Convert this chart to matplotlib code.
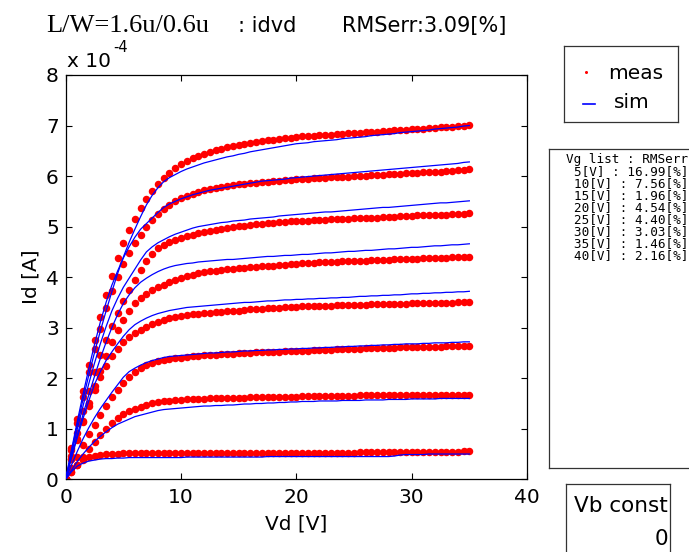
import numpy as np
import matplotlib
matplotlib.use("Agg")
import matplotlib.pyplot as plt

# ---------------- data (Id in units of 1e-4 A) ----------------
vd = np.arange(71) * 0.5          # drain sweep 0 .. 35 V, 0.5 V step
vg_list = [5, 10, 15, 20, 25, 30, 35, 40]
rms_err = ["16.99", "7.56", "1.96", "4.54", "4.40", "3.03", "1.46", "2.16"]
x_ticks = [0, 10, 20, 30, 40]
y_ticks = [0, 1, 2, 3, 4, 5, 6, 7, 8]

meas_5 = [0.00, 0.15, 0.28, 0.38, 0.44, 0.47, 0.49, 0.50, 0.51, 0.51,
          0.52, 0.52, 0.52, 0.52, 0.52, 0.52, 0.52, 0.52, 0.52, 0.52,
          0.52, 0.52, 0.52, 0.52, 0.52, 0.52, 0.52, 0.52, 0.52, 0.52,
          0.52, 0.53, 0.53, 0.53, 0.53, 0.53, 0.53, 0.53, 0.53, 0.53,
          0.53, 0.53, 0.53, 0.53, 0.53, 0.53, 0.53, 0.53, 0.53, 0.53,
          0.53, 0.55, 0.55, 0.55, 0.55, 0.55, 0.55, 0.55, 0.55, 0.55,
          0.55, 0.55, 0.55, 0.55, 0.55, 0.55, 0.55, 0.55, 0.55, 0.56,
          0.56]
sim_5 = [0.00, 0.15, 0.26, 0.32, 0.36, 0.38, 0.40, 0.41, 0.41, 0.42,
         0.42, 0.43, 0.43, 0.43, 0.43, 0.43, 0.43, 0.43, 0.43, 0.43,
         0.43, 0.44, 0.44, 0.44, 0.44, 0.44, 0.44, 0.44, 0.44, 0.44,
         0.44, 0.44, 0.44, 0.44, 0.44, 0.45, 0.45, 0.45, 0.45, 0.45,
         0.45, 0.45, 0.45, 0.45, 0.45, 0.45, 0.45, 0.45, 0.45, 0.45,
         0.45, 0.45, 0.45, 0.45, 0.45, 0.45, 0.45, 0.46, 0.48, 0.49,
         0.49, 0.49, 0.49, 0.50, 0.50, 0.50, 0.50, 0.50, 0.50, 0.50,
         0.50]
meas_10 = [0.00, 0.14, 0.29, 0.44, 0.60, 0.74, 0.88, 1.00, 1.11, 1.21,
           1.29, 1.35, 1.40, 1.44, 1.47, 1.50, 1.52, 1.54, 1.55, 1.56,
           1.57, 1.58, 1.58, 1.59, 1.59, 1.60, 1.60, 1.60, 1.61, 1.61,
           1.61, 1.61, 1.62, 1.62, 1.62, 1.62, 1.62, 1.63, 1.63, 1.63,
           1.63, 1.64, 1.64, 1.64, 1.64, 1.64, 1.64, 1.64, 1.64, 1.64,
           1.64, 1.66, 1.66, 1.66, 1.66, 1.66, 1.66, 1.66, 1.66, 1.66,
           1.66, 1.66, 1.66, 1.66, 1.66, 1.66, 1.66, 1.66, 1.66, 1.66,
           1.67]
sim_10 = [0.00, 0.18, 0.35, 0.50, 0.63, 0.75, 0.85, 0.94, 1.02, 1.09,
          1.14, 1.19, 1.24, 1.27, 1.30, 1.33, 1.36, 1.38, 1.39, 1.40,
          1.41, 1.42, 1.43, 1.44, 1.45, 1.45, 1.46, 1.46, 1.47, 1.47,
          1.48, 1.49, 1.49, 1.50, 1.50, 1.51, 1.51, 1.52, 1.52, 1.53,
          1.53, 1.54, 1.54, 1.54, 1.55, 1.55, 1.55, 1.55, 1.56, 1.56,
          1.56, 1.56, 1.57, 1.57, 1.57, 1.57, 1.58, 1.58, 1.58, 1.58,
          1.59, 1.59, 1.59, 1.59, 1.59, 1.60, 1.60, 1.60, 1.60, 1.60,
          1.60]
meas_15 = [0.00, 0.23, 0.45, 0.68, 0.90, 1.08, 1.28, 1.46, 1.62, 1.76,
           1.90, 2.02, 2.12, 2.21, 2.27, 2.31, 2.34, 2.36, 2.38, 2.40,
           2.41, 2.42, 2.43, 2.44, 2.45, 2.46, 2.46, 2.47, 2.47, 2.48,
           2.49, 2.49, 2.50, 2.51, 2.51, 2.52, 2.52, 2.52, 2.53, 2.53,
           2.53, 2.54, 2.54, 2.55, 2.55, 2.56, 2.56, 2.57, 2.57, 2.57,
           2.58, 2.58, 2.59, 2.59, 2.59, 2.60, 2.60, 2.60, 2.61, 2.61,
           2.61, 2.61, 2.62, 2.62, 2.62, 2.62, 2.63, 2.63, 2.63, 2.64,
           2.64]
sim_15 = [0.00, 0.28, 0.55, 0.80, 1.02, 1.22, 1.40, 1.56, 1.72, 1.87,
          2.02, 2.13, 2.20, 2.26, 2.31, 2.35, 2.38, 2.41, 2.43, 2.44,
          2.45, 2.46, 2.47, 2.48, 2.49, 2.50, 2.50, 2.51, 2.52, 2.52,
          2.53, 2.54, 2.54, 2.55, 2.55, 2.56, 2.56, 2.57, 2.57, 2.58,
          2.58, 2.59, 2.59, 2.60, 2.60, 2.61, 2.61, 2.62, 2.62, 2.63,
          2.63, 2.64, 2.64, 2.65, 2.65, 2.66, 2.66, 2.67, 2.67, 2.68,
          2.68, 2.68, 2.69, 2.69, 2.70, 2.70, 2.70, 2.71, 2.71, 2.72,
          2.72]
meas_20 = [0.00, 0.40, 0.78, 1.13, 1.46, 1.77, 2.02, 2.24, 2.43, 2.58,
           2.71, 2.81, 2.89, 2.96, 3.02, 3.08, 3.12, 3.16, 3.19, 3.22,
           3.24, 3.25, 3.27, 3.28, 3.29, 3.30, 3.31, 3.32, 3.33, 3.33,
           3.34, 3.35, 3.36, 3.37, 3.37, 3.38, 3.39, 3.39, 3.40, 3.41,
           3.41, 3.42, 3.42, 3.42, 3.43, 3.43, 3.43, 3.44, 3.44, 3.44,
           3.45, 3.45, 3.45, 3.46, 3.46, 3.46, 3.47, 3.47, 3.47, 3.47,
           3.48, 3.48, 3.48, 3.48, 3.49, 3.49, 3.49, 3.49, 3.50, 3.50,
           3.50]
sim_20 = [0.00, 0.42, 0.82, 1.20, 1.55, 1.88, 2.13, 2.35, 2.52, 2.68,
          2.83, 2.96, 3.06, 3.13, 3.19, 3.24, 3.28, 3.31, 3.34, 3.36,
          3.38, 3.40, 3.41, 3.42, 3.43, 3.44, 3.45, 3.46, 3.47, 3.48,
          3.49, 3.50, 3.50, 3.51, 3.52, 3.53, 3.53, 3.54, 3.55, 3.55,
          3.56, 3.56, 3.57, 3.57, 3.58, 3.58, 3.59, 3.59, 3.60, 3.60,
          3.61, 3.62, 3.62, 3.63, 3.63, 3.64, 3.64, 3.65, 3.65, 3.66,
          3.67, 3.67, 3.68, 3.68, 3.69, 3.69, 3.70, 3.70, 3.71, 3.71,
          3.72]
meas_25 = [0.00, 0.40, 0.79, 1.16, 1.51, 1.84, 2.15, 2.44, 2.71, 2.95,
           3.16, 3.34, 3.49, 3.59, 3.67, 3.74, 3.80, 3.85, 3.90, 3.95,
           3.99, 4.02, 4.05, 4.08, 4.10, 4.12, 4.13, 4.14, 4.16, 4.17,
           4.18, 4.19, 4.20, 4.21, 4.22, 4.23, 4.23, 4.24, 4.25, 4.26,
           4.27, 4.28, 4.28, 4.28, 4.29, 4.29, 4.30, 4.30, 4.31, 4.31,
           4.32, 4.32, 4.32, 4.33, 4.33, 4.34, 4.34, 4.35, 4.35, 4.36,
           4.36, 4.36, 4.37, 4.37, 4.37, 4.38, 4.38, 4.39, 4.39, 4.39,
           4.40]
sim_25 = [0.00, 0.44, 0.87, 1.28, 1.67, 2.04, 2.39, 2.71, 3.00, 3.26,
          3.48, 3.65, 3.79, 3.90, 3.98, 4.05, 4.11, 4.16, 4.20, 4.23,
          4.25, 4.27, 4.28, 4.30, 4.31, 4.32, 4.33, 4.34, 4.35, 4.35,
          4.36, 4.37, 4.38, 4.39, 4.40, 4.41, 4.41, 4.42, 4.43, 4.43,
          4.44, 4.45, 4.45, 4.46, 4.47, 4.48, 4.48, 4.49, 4.50, 4.51,
          4.51, 4.52, 4.53, 4.53, 4.54, 4.55, 4.56, 4.56, 4.57, 4.58,
          4.59, 4.59, 4.60, 4.61, 4.62, 4.62, 4.63, 4.64, 4.64, 4.65,
          4.66]
meas_30 = [0.00, 0.47, 0.92, 1.35, 1.75, 2.12, 2.45, 2.75, 3.03, 3.29,
           3.53, 3.75, 3.95, 4.14, 4.32, 4.46, 4.57, 4.64, 4.70, 4.74,
           4.78, 4.81, 4.84, 4.87, 4.90, 4.92, 4.94, 4.96, 4.98, 4.99,
           5.01, 5.02, 5.04, 5.05, 5.06, 5.07, 5.08, 5.09, 5.10, 5.11,
           5.11, 5.12, 5.12, 5.13, 5.13, 5.14, 5.15, 5.15, 5.16, 5.16,
           5.17, 5.17, 5.17, 5.18, 5.18, 5.19, 5.19, 5.20, 5.21, 5.21,
           5.21, 5.22, 5.22, 5.22, 5.23, 5.23, 5.23, 5.24, 5.24, 5.25,
           5.26]
sim_30 = [0.00, 0.50, 0.99, 1.45, 1.89, 2.30, 2.68, 3.02, 3.33, 3.58,
          3.80, 3.98, 4.16, 4.34, 4.50, 4.60, 4.68, 4.74, 4.80, 4.85,
          4.89, 4.93, 4.97, 5.00, 5.02, 5.04, 5.06, 5.08, 5.09, 5.11,
          5.12, 5.13, 5.15, 5.16, 5.17, 5.18, 5.19, 5.21, 5.22, 5.23,
          5.24, 5.25, 5.26, 5.27, 5.28, 5.29, 5.29, 5.30, 5.31, 5.32,
          5.33, 5.34, 5.35, 5.36, 5.37, 5.38, 5.38, 5.39, 5.40, 5.41,
          5.42, 5.43, 5.44, 5.45, 5.46, 5.47, 5.47, 5.48, 5.49, 5.50,
          5.51]
meas_35 = [0.00, 0.57, 1.11, 1.63, 2.12, 2.57, 2.98, 3.38, 3.72, 4.01,
           4.26, 4.47, 4.67, 4.84, 5.00, 5.13, 5.24, 5.34, 5.43, 5.50,
           5.56, 5.61, 5.65, 5.69, 5.72, 5.75, 5.77, 5.79, 5.81, 5.82,
           5.84, 5.85, 5.86, 5.87, 5.88, 5.89, 5.90, 5.91, 5.92, 5.93,
           5.94, 5.95, 5.95, 5.96, 5.96, 5.97, 5.98, 5.98, 5.99, 5.99,
           6.00, 6.01, 6.01, 6.02, 6.03, 6.03, 6.04, 6.05, 6.05, 6.06,
           6.06, 6.07, 6.08, 6.08, 6.09, 6.09, 6.10, 6.11, 6.12, 6.13,
           6.14]
sim_35 = [0.00, 0.58, 1.14, 1.68, 2.19, 2.67, 3.11, 3.50, 3.84, 4.12,
          4.38, 4.60, 4.79, 4.95, 5.06, 5.17, 5.28, 5.38, 5.45, 5.50,
          5.55, 5.59, 5.63, 5.66, 5.69, 5.72, 5.74, 5.76, 5.78, 5.80,
          5.82, 5.84, 5.86, 5.88, 5.90, 5.91, 5.92, 5.93, 5.94, 5.96,
          5.97, 5.98, 5.99, 6.00, 6.01, 6.02, 6.03, 6.04, 6.05, 6.06,
          6.07, 6.08, 6.09, 6.10, 6.11, 6.12, 6.13, 6.14, 6.15, 6.16,
          6.17, 6.18, 6.19, 6.20, 6.21, 6.22, 6.23, 6.24, 6.25, 6.27,
          6.28]
meas_40 = [0.00, 0.62, 1.20, 1.75, 2.27, 2.76, 3.22, 3.65, 4.03, 4.38,
           4.67, 4.93, 5.16, 5.37, 5.55, 5.71, 5.85, 5.97, 6.07, 6.16,
           6.23, 6.29, 6.35, 6.40, 6.44, 6.48, 6.51, 6.54, 6.57, 6.59,
           6.62, 6.64, 6.66, 6.68, 6.69, 6.71, 6.72, 6.74, 6.75, 6.76,
           6.78, 6.79, 6.79, 6.80, 6.81, 6.82, 6.82, 6.83, 6.84, 6.85,
           6.85, 6.86, 6.87, 6.88, 6.88, 6.89, 6.90, 6.91, 6.91, 6.92,
           6.93, 6.94, 6.94, 6.95, 6.96, 6.97, 6.97, 6.98, 6.99, 7.00,
           7.01]
sim_40 = [0.00, 0.55, 1.08, 1.58, 2.06, 2.51, 2.93, 3.33, 3.71, 4.07,
          4.40, 4.69, 4.95, 5.20, 5.43, 5.62, 5.77, 5.89, 5.97, 6.03,
          6.09, 6.14, 6.18, 6.22, 6.26, 6.29, 6.32, 6.35, 6.38, 6.40,
          6.43, 6.45, 6.48, 6.50, 6.52, 6.54, 6.56, 6.58, 6.60, 6.62,
          6.64, 6.65, 6.66, 6.68, 6.69, 6.70, 6.71, 6.72, 6.74, 6.75,
          6.76, 6.77, 6.78, 6.80, 6.81, 6.82, 6.83, 6.84, 6.86, 6.87,
          6.88, 6.89, 6.90, 6.91, 6.93, 6.94, 6.95, 6.96, 6.97, 6.99,
          7.00]

meas_all = [meas_5, meas_10, meas_15, meas_20, meas_25, meas_30, meas_35, meas_40]
sim_all = [sim_5, sim_10, sim_15, sim_20, sim_25, sim_30, sim_35, sim_40]

# ---------------- figure ----------------
W, H = 689, 552
fig = plt.figure(figsize=(W / 100, H / 100), dpi=100)
fig.patch.set_facecolor("white")

def fx(px):
    return px / W

def fy(py):
    return 1 - py / H

ax_l, ax_t, ax_r, ax_b = 65.7, 75.0, 527.0, 479.3
ax = fig.add_axes([fx(ax_l), fy(ax_b), (ax_r - ax_l) / W, (ax_b - ax_t) / H])

for m in meas_all:
    ax.plot(vd, m, linestyle="none", marker="o", markersize=5.4,
            markerfacecolor="#ff0000", markeredgewidth=0, zorder=2)
for s in sim_all:
    ax.plot(vd, s, color="#0000ff", linewidth=0.9, zorder=3)

ax.set_xlim(0, 40)
ax.set_ylim(0, 8)
ax.set_xticks(x_ticks)
ax.set_yticks(y_ticks)
ax.tick_params(direction="in", length=4, width=0.8, top=True, right=True,
               labelsize=14.5, pad=6)
ax.tick_params(axis="y", pad=5)
for sp in ax.spines.values():
    sp.set_linewidth(0.9)
    sp.set_color("black")

# axis labels and exponent
fig.text(fx(296), fy(524), "Vd [V]", fontsize=14.5, ha="center", va="center")
fig.text(fx(31), fy(277), "Id [A]", fontsize=14.5, ha="center", va="center",
         rotation=90)
fig.text(fx(67), fy(61.5), "x 10", fontsize=14.5, ha="left", va="center")
fig.text(fx(113), fy(47), "-4", fontsize=10.5, ha="left", va="center")

# title
fig.text(fx(46), fy(32), "L/W=1.6u/0.6u", fontsize=19, family="Liberation Serif",
         ha="left", va="baseline")
fig.text(fx(238), fy(32), ": idvd", fontsize=15, ha="left", va="baseline")
fig.text(fx(342), fy(32), "RMSerr:3.09[%]", fontsize=15, ha="left", va="baseline")

# framed boxes outside the axes
def box(x0, y0, x1, y1):
    b = fig.add_axes([fx(x0), fy(y1), (x1 - x0) / W, (y1 - y0) / H])
    b.set_xticks([])
    b.set_yticks([])
    b.set_xlim(x0, x1)
    b.set_ylim(y1, y0)
    for sp in b.spines.values():
        sp.set_linewidth(0.9)
        sp.set_color("#333333")
    b.patch.set_alpha(0)
    return b

# legend box
lg = box(564, 46, 678, 122)
lg.plot([585.7], [72.3], marker="o", markersize=2.2, color="#ff0000",
        markeredgewidth=0, linestyle="none")
lg.plot([583, 595], [104, 104], color="#0000ff", linewidth=1.2)
lg.text(608, 79, "meas", fontsize=14.5, ha="left", va="baseline")
lg.text(614, 108.3, "sim", fontsize=14.5, ha="left", va="baseline")

# Vg list box
vb = box(549, 149, 700, 468)
vg_lines = ["Vg list : RMSerr"] + [f"{vg}[V] : {e}[%]" for vg, e in zip(vg_list, rms_err)]
fig.text(fx(688), fy(153), "\n".join(vg_lines), fontsize=9.1,
         family="DejaVu Sans Mono", ha="right", va="top",
         multialignment="right", linespacing=0.9)

# Vb const box
bb = box(566, 484, 670, 570)
fig.text(fx(668), fy(511.7), "Vb const", fontsize=15.5, ha="right", va="baseline")
fig.text(fx(668), fy(545), "0", fontsize=15.5, ha="right", va="baseline")

fig.savefig("out.png", dpi=100, facecolor="white")
